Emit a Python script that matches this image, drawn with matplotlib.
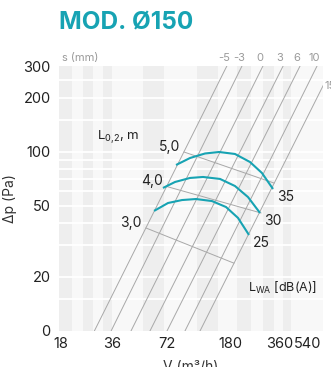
import numpy as np
import matplotlib
matplotlib.use("Agg")
import matplotlib.pyplot as plt
import matplotlib.transforms as mtransforms
from matplotlib.ticker import NullLocator

plt.rcParams['font.family'] = ['Inter', 'DejaVu Sans']
plt.rcParams['mathtext.fontset'] = 'custom'
plt.rcParams['mathtext.rm'] = 'Inter'
plt.rcParams['mathtext.it'] = 'Inter'

TEAL = "#17a3b3"
TXT = "#222222"
GREY_TXT = "#9a9a9a"

# axis ticks
x_ticks = [18, 36, 72, 180, 360, 540]
y_ticks = [10, 20, 50, 100, 200, 300]
y_tick_labels = ["0", "20", "50", "100", "200", "300"]

# s (mm) lines: air flow at 10 Pa and at 300 Pa
s_labels = ["-5", "-3", "0", "3", "6", "10", "15"]
s_v_low = [28.4, 35.7, 45.9, 58.3, 72.3, 93.8, 116.6]
s_v_high = [172, 213, 286, 380, 484, 617, 775]

# throw L0,2 lines
throw_labels = ["3,0", "4,0", "5,0"]
throw_v = [[55.5, 190], [72, 278], [92.5, 334]]
throw_dp = [[37.5, 23.9], [63.9, 45.5], [99.5, 66.8]]

# sound power curves LWA
lwa_labels = ["25", "30", "35"]
lwa_v = [
    [61.4, 73.4, 89.9, 110, 138.7, 169.9, 201.4, 235.1],
    [68.7, 81.2, 100.9, 121.8, 155.8, 193, 231.8, 274.5],
    [82.4, 100.9, 125.4, 153.5, 193, 238.4, 282, 329.5],
]
lwa_dp = [
    [46.7, 51.7, 53.7, 54.4, 53.0, 49.1, 42.7, 34.3],
    [62.7, 67.7, 71.3, 72.2, 70.4, 64.3, 55.8, 45.5],
    [84.2, 92.1, 97.6, 99.5, 97.0, 87.5, 76.0, 61.9],
]

# shaded background bands (flow ranges)
band_lo = [17.5, 24.3, 31.9, 53.4, 111.7, 198.7, 286, 380]
band_hi = [20.9, 27.9, 36.1, 69.7, 151.3, 241.9, 334, 425]
grid_dp = [15, 20, 30, 40, 50, 60, 70, 80, 90, 100, 150, 200, 250]

# the printed flow axis is not an even log scale
scale_v = np.array([9, 18, 36, 72, 180, 360, 540, 1080])
scale_pos = np.array([10.3, 61, 111.7, 166.7, 230, 279.3, 307.7, 356.2])


def fwd(v):
    v = np.clip(np.asarray(v, dtype=float), 1e-6, None)
    return np.interp(np.log(v), np.log(scale_v), scale_pos)


def inv(p):
    return np.exp(np.interp(np.asarray(p, dtype=float), scale_pos, np.log(scale_v)))


fig = plt.figure(figsize=(3.31, 3.67), dpi=100)
ax = fig.add_axes([59 / 331, 36 / 367, 264 / 331, 265 / 367])
ax.set_xscale('function', functions=(fwd, inv))
ax.set_yscale('log')
ax.set_xlim(float(inv(59)), float(inv(323)))
ax.set_ylim(10, 300)
ax.set_facecolor("#f8f8f8")

for lo, hi in zip(band_lo, band_hi):
    ax.axvspan(lo, hi, color="#eeeeee", lw=0, zorder=0)
for g in grid_dp:
    ax.axhline(g, color="white", lw=1.3, zorder=1)

for v0, v1 in zip(s_v_low, s_v_high):
    ax.plot([v0, v1], [10, 300], color="#a8a8a8", lw=0.7, zorder=2)
for lab, v1 in zip(s_labels[:-1], s_v_high[:-1]):
    ax.annotate(lab, xy=(v1, 300), xytext=(-3, 3), textcoords='offset pixels',
                ha='center', va='bottom', fontsize=8, color=GREY_TXT,
                annotation_clip=False)
# last label sits at the right edge, cut by the frame as in the print
ax.text(1.006, 232, s_labels[-1], transform=mtransforms.blended_transform_factory(ax.transAxes, ax.transData),
        ha='left', va='center', fontsize=8, color=GREY_TXT)
ax.text(0.012, 1.012, "s (mm)", transform=ax.transAxes, ha='left', va='bottom',
        fontsize=8, color=GREY_TXT)

for lab, tv, tp in zip(throw_labels, throw_v, throw_dp):
    ax.plot(tv, tp, color="#a8a8a8", lw=0.7, zorder=2)
    ax.annotate(lab, xy=(tv[0], tp[0]), xytext=(-4, 5), textcoords='offset pixels',
                ha='right', va='center', fontsize=10, color=TXT)

for lab, cv, cp in zip(lwa_labels, lwa_v, lwa_dp):
    ax.plot(cv, cp, color=TEAL, lw=1.5, zorder=3, solid_capstyle='butt')
    ax.annotate(lab, xy=(cv[-1], cp[-1]), xytext=(4, -8), textcoords='offset pixels',
                ha='left', va='center', fontsize=10, color=TXT)

ax.text(29.5, 120, r"L$_{0{,}2}$, m", ha='left', va='center', fontsize=9.5, color=TXT)
ax.text(232, 17.4, r"L$_{\mathrm{WA}}$ [dB(A)]", ha='left', va='center', fontsize=9, color=TXT)

ax.set_xticks(x_ticks)
ax.set_xticklabels([str(t) for t in x_ticks])
ax.set_yticks(y_ticks)
ax.set_yticklabels(y_tick_labels)
ax.xaxis.set_minor_locator(NullLocator())
ax.yaxis.set_minor_locator(NullLocator())
ax.tick_params(axis='both', length=0, labelsize=10.5, colors=TXT)
ax.tick_params(axis='x', pad=4)
ax.tick_params(axis='y', pad=6)
for sp in ax.spines.values():
    sp.set_visible(False)

ax.set_xlabel("V (m³/h)", fontsize=10, color="#333333", labelpad=7)
ax.set_ylabel("Δp (Pa)", fontsize=10, color="#333333")
ax.yaxis.set_label_coords(-0.16, 0.5)

fig.text(59 / 331, 1 - 23 / 367, "MOD. Ø150", fontsize=17.5, fontweight='bold',
         color=TEAL, ha='left', va='center')

fig.savefig("out.png", dpi=100)
